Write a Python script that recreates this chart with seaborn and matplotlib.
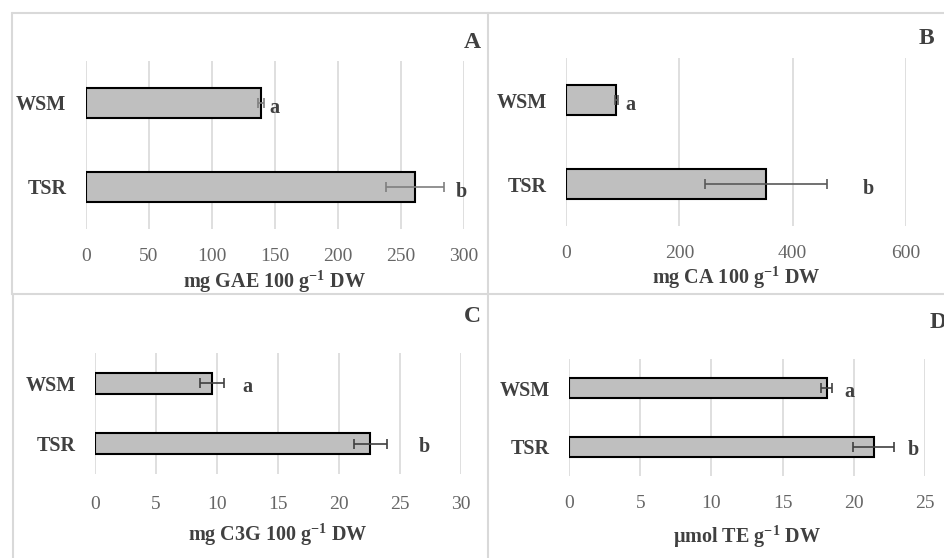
import matplotlib
matplotlib.use("Agg")
import matplotlib.pyplot as plt
import seaborn as sns
import pandas as pd
from matplotlib.lines import Line2D

# ---------------- data ----------------
categories = ["WSM", "TSR"]

a_values = [139, 261]
a_errors = [2, 23]
b_values = [89, 353]
b_errors = [2, 107]
c_values = [9.6, 22.6]
c_errors = [0.95, 1.35]
d_values = [18.1, 21.4]
d_errors = [0.4, 1.45]

letters = ["a", "b"]

a_ticks = [0, 50, 100, 150, 200, 250, 300]
b_ticks = [0, 200, 400, 600]
c_ticks = [0, 5, 10, 15, 20, 25, 30]
d_ticks = [0, 5, 10, 15, 20, 25]

a_xlabel = r"mg GAE 100 g$^{\mathbf{-1}}$ DW"
b_xlabel = r"mg CA 100 g$^{\mathbf{-1}}$ DW"
c_xlabel = r"mg C3G 100 g$^{\mathbf{-1}}$ DW"
d_xlabel = r"μmol TE g$^{\mathbf{-1}}$ DW"

panel_names = ["A", "B", "C", "D"]

# ---------------- style ----------------
sns.set_style("white")
plt.rcParams["font.family"] = ["Liberation Serif", "DejaVu Serif"]
plt.rcParams["mathtext.fontset"] = "custom"
plt.rcParams["mathtext.rm"] = "Liberation Serif"
plt.rcParams["mathtext.bf"] = "Liberation Serif:bold"
plt.rcParams["mathtext.it"] = "Liberation Serif:italic"

W, H = 945, 558
fig = plt.figure(figsize=(W / 100, H / 100), dpi=100)

TEXT = "#404040"
TICK = "#666666"
GRID = "#d9d9d9"


def px_axes(left, right, top, bottom):
    return fig.add_axes([left / W, 1 - bottom / H, (right - left) / W, (bottom - top) / H])


panels = [
    dict(vals=a_values, errs=a_errors, ticks=a_ticks, xlabel=a_xlabel,
         box=(85.7, 464, 61, 229), lab_x=[150, 298], ecol="#7f7f7f",
         name_pos=(472, 42), tpad=13.5, lpad=3),
    dict(vals=b_values, errs=b_errors, ticks=b_ticks, xlabel=b_xlabel,
         box=(566, 906, 58, 226), lab_x=[113, 534], ecol="#595959",
         name_pos=(926, 39), tpad=13.5, lpad=2),
    dict(vals=c_values, errs=c_errors, ticks=c_ticks, xlabel=c_xlabel,
         box=(95, 460.7, 353, 474), lab_x=[12.5, 27.0], ecol="#404040",
         name_pos=(472, 317), tpad=15.5, lpad=7),
    dict(vals=d_values, errs=d_errors, ticks=d_ticks, xlabel=d_xlabel,
         box=(569.3, 924.7, 359, 476), lab_x=[19.7, 24.2], ecol="#404040",
         name_pos=(938, 322), tpad=14, lpad=8),
]

for p, name in zip(panels, panel_names):
    ax = px_axes(*p["box"])
    df = pd.DataFrame({"cat": categories, "val": p["vals"]})
    sns.barplot(data=df, x="val", y="cat", orient="h", ax=ax, color="#bfbfbf",
                saturation=1, edgecolor="black", linewidth=1.5, width=0.35,
                errorbar=None, zorder=3)
    ax.errorbar(p["vals"], range(len(categories)), xerr=p["errs"], fmt="none",
                ecolor=p["ecol"], elinewidth=1.2, capsize=3.5, capthick=1.2, zorder=4)
    for i, (lx, lt) in enumerate(zip(p["lab_x"], letters)):
        ax.text(lx, i + 0.06, lt, ha="center", va="center", fontsize=14.5,
                fontweight="bold", color=TEXT, zorder=5)
    ax.set_xlim(p["ticks"][0], p["ticks"][-1])
    ax.set_ylim(1.5, -0.5)
    ax.set_xticks(p["ticks"])
    ax.set_xticklabels([str(t) for t in p["ticks"]])
    ax.grid(axis="x", color=GRID, linewidth=1.2, zorder=0)
    ax.grid(axis="y", visible=False)
    for s in ax.spines.values():
        s.set_visible(False)
    ax.tick_params(axis="x", length=0, pad=p["tpad"], labelsize=14, labelcolor=TICK)
    ax.tick_params(axis="y", length=0, pad=14, labelsize=14.5, labelcolor=TEXT)
    for t in ax.get_yticklabels():
        t.set_fontweight("bold")
    ax.set_ylabel("")
    ax.set_xlabel(p["xlabel"], fontsize=14.5, fontweight="bold", color=TEXT,
                  labelpad=p["lpad"])
    ax.set_facecolor("none")
    nx, ny = p["name_pos"]
    fig.text(nx / W, 1 - ny / H, name, ha="center", va="center", fontsize=17,
             fontweight="bold", color=TEXT)

# panel borders
def fig_line(x0, y0, x1, y1):
    fig.add_artist(Line2D([x0 / W, x1 / W], [1 - y0 / H, 1 - y1 / H],
                          color=GRID, linewidth=1.5))

fig_line(12, 13, 945, 13)
fig_line(12, 13, 12, 294)
fig_line(12, 294, 945, 294)
fig_line(488, 13, 488, 558)
fig_line(13, 294, 13, 558)

fig.savefig("out.png", dpi=100)
